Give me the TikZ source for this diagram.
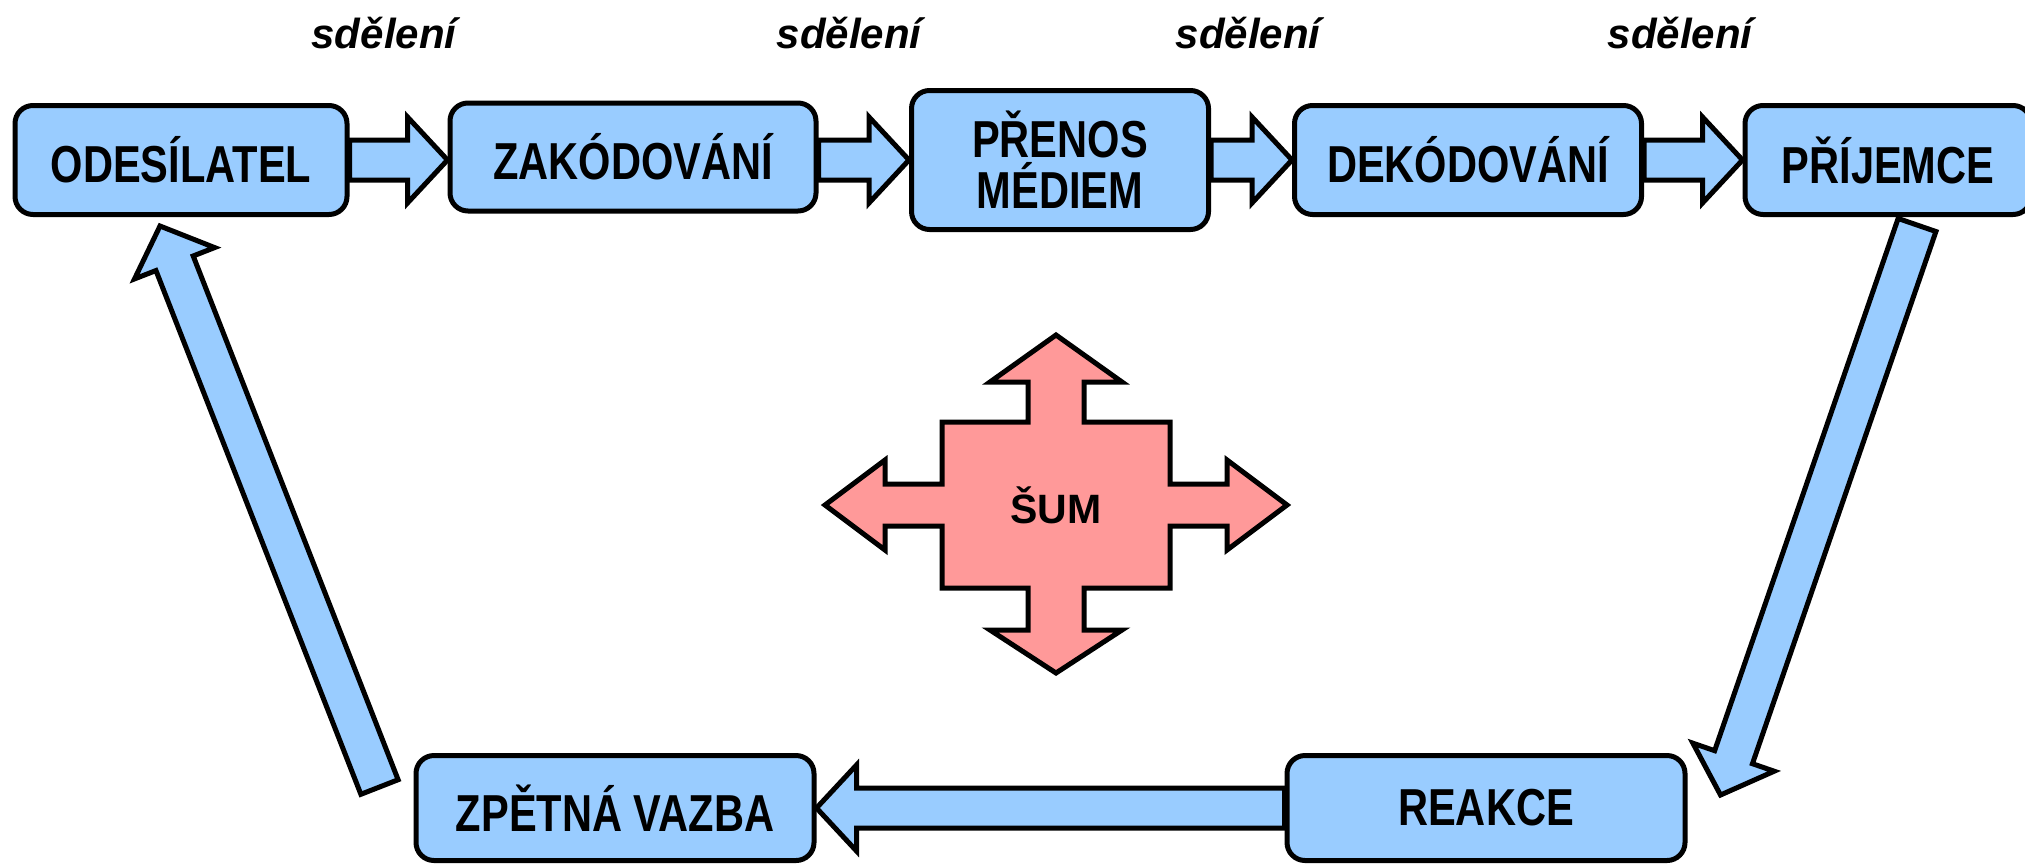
\documentclass[tikz,border=0pt]{standalone}
\usepackage{fontspec}
\setmainfont{Liberation Sans}
\newfontfamily\condsans[FakeStretch=0.8]{Liberation Sans}
\usetikzlibrary{calc}
\definecolor{boxblue}{HTML}{99CCFF}
\definecolor{noisepink}{HTML}{FF9999}
\tikzset{
  stagebox/.style={draw=black, line width=5pt, rounded corners=18pt, fill=boxblue,
    inner sep=0pt, align=center, font=\condsans\fontsize{52}{51}\selectfont\bfseries},
  blockarrow/.style={draw=black, line width=5pt, fill=boxblue, line join=miter},
  noiseshape/.style={draw=black, line width=5pt, fill=noisepink, line join=miter},
  msg/.style={font=\fontsize{42}{50}\selectfont\bfseries\itshape, inner sep=0pt, anchor=base},
  noisetext/.style={font=\fontsize{41}{49}\selectfont\bfseries, inner sep=0pt},
}
% block arrow from #1 to #2 (shaft half width 20, head half width 43, head length 40)
\newcommand{\blockarr}[2]{%
  \coordinate (ba-c) at ($(#2)!40pt!(#1)$);
  \draw[blockarrow] ($(#1)!20pt!90:(#2)$) -- ($(ba-c)!20pt!90:(#2)$) -- ($(ba-c)!43pt!90:(#2)$)
    -- (#2) -- ($(ba-c)!43pt!-90:(#2)$) -- ($(ba-c)!20pt!-90:(#2)$) -- ($(#1)!20pt!-90:(#2)$) -- cycle;
}
\begin{document}
\begin{tikzpicture}[x=1pt,y=-1pt]
\useasboundingbox (0,0) rectangle (2025,865);
\fill[white] (0,0) rectangle (2025,865);
\clip (0,0) rectangle (2025,865);

% stages
\node[stagebox, minimum width=332, minimum height=109] (ode) at (181,160) {ODESÍLATEL};
\node[stagebox, minimum width=366, minimum height=108] (zak) at (633,157) {ZAKÓDOVÁNÍ};
\node[stagebox, minimum width=297, minimum height=139] (pre) at (1060,160) {PŘENOS\\MÉDIEM};
\node[stagebox, minimum width=347, minimum height=109] (dek) at (1468,160) {DEKÓDOVÁNÍ};
\node[stagebox, minimum width=286, minimum height=109] (pri) at (1888,160) {PŘÍJEMCE};
\node[stagebox, minimum width=398, minimum height=105] (zpe) at (615,808) {ZPĚTNÁ VAZBA};
\node[stagebox, minimum width=398, minimum height=105] (rea) at (1486,808) {REAKCE};

% message labels
\node[msg] (m1) at (384,48) {sdělení};
\node[msg] (m2) at (849,48) {sdělení};
\node[msg] (m3) at (1248,48) {sdělení};
\node[msg] (m4) at (1680,48) {sdělení};

% top row arrows
\coordinate (a1e) at (ode.east -| zak.west);
\blockarr{ode.east}{a1e}
\coordinate (a2s) at (pre.west -| zak.east);
\blockarr{a2s}{pre.west}
\blockarr{pre.east}{dek.west}
\blockarr{dek.east}{pri.west}

% feedback loop
\coordinate (rtail) at ($(pri.south)+(29,8)$);
\coordinate (rtip) at ($(rea.north east)+(33,42)$);
\blockarr{rtail}{rtip}
\coordinate (btip) at (rea.west -| zpe.east);
\blockarr{rea.west}{btip}
\coordinate (ltail) at ($(zpe.north west)+(-34,34)$);
\coordinate (ltip) at ($(ode.south)+(-21,9)$);
\blockarr{ltail}{ltip}

% noise
\coordinate (sumc) at (1056,505);
\draw[noiseshape, shift={(sumc)}]
  (0,-170) -- (66,-123) -- (28,-123) -- (28,-83) -- (114,-83) -- (114,-21) -- (171,-21)
  -- (171,-45) -- (231,0) -- (171,45) -- (171,21) -- (114,21) -- (114,83) -- (28,83)
  -- (28,125) -- (66,125) -- (0,168) -- (-66,125) -- (-28,125) -- (-28,83) -- (-114,83)
  -- (-114,21) -- (-171,21) -- (-171,45) -- (-231,0) -- (-171,-45) -- (-171,-21)
  -- (-114,-21) -- (-114,-83) -- (-28,-83) -- (-28,-123) -- (-66,-123) -- cycle;
\node[noisetext] (sum) at (sumc) {ŠUM};
\end{tikzpicture}
\end{document}
